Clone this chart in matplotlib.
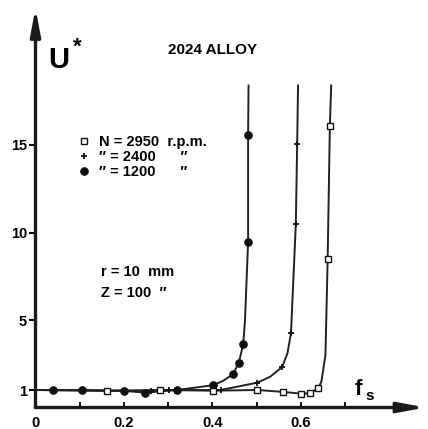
import matplotlib
matplotlib.use("Agg")
import matplotlib.pyplot as plt
from matplotlib.lines import Line2D

plt.rcParams['font.family'] = ['Liberation Sans', 'DejaVu Sans']
plt.rcParams['font.weight'] = 'bold'

# N = 1200 r.p.m. (filled circles)
fs_1200 = [0.040, 0.105, 0.200, 0.248, 0.320, 0.401, 0.447, 0.460, 0.470, 0.481, 0.481]
u_1200 = [1.0, 1.0, 0.95, 0.85, 1.0, 1.27, 1.91, 2.56, 3.63, 9.47, 15.6]
# traced curve through the points (incl. the ends of the line)
curve_fs_1200 = [0.0, 0.040, 0.105, 0.200, 0.248, 0.320, 0.401, 0.425, 0.447, 0.460,
                 0.470, 0.474, 0.481, 0.481, 0.482]
curve_u_1200 = [1.0, 1.0, 1.0, 0.95, 0.85, 1.0, 1.27, 1.53, 1.91, 2.56,
                3.63, 5.0, 9.47, 15.6, 18.4]

# N = 2400 r.p.m. (plus)
fs_2400 = [0.262, 0.301, 0.419, 0.502, 0.558, 0.578, 0.589, 0.592]
u_2400 = [0.95, 1.0, 1.0, 1.42, 2.31, 4.24, 10.5, 15.05]
curve_fs_2400 = [0.0, 0.262, 0.301, 0.419, 0.502, 0.531, 0.558, 0.570, 0.578, 0.589,
                 0.592, 0.594]
curve_u_2400 = [1.0, 0.95, 1.0, 1.0, 1.42, 1.76, 2.31, 3.1, 4.24, 10.5,
                15.05, 18.4]

# N = 2950 r.p.m. (open squares)
fs_2950 = [0.161, 0.281, 0.401, 0.502, 0.561, 0.601, 0.620, 0.640, 0.661, 0.666]
u_2950 = [0.95, 1.0, 0.96, 1.0, 0.89, 0.79, 0.81, 1.10, 8.49, 16.1]
curve_fs_2950 = [0.0, 0.161, 0.281, 0.401, 0.502, 0.561, 0.601, 0.620, 0.640, 0.647,
                 0.656, 0.661, 0.666, 0.669]
curve_u_2950 = [1.0, 0.95, 1.0, 0.96, 1.0, 0.89, 0.79, 0.81, 1.10, 1.5,
                3.0, 8.49, 16.1, 18.4]

x_ticks = [0, 0.2, 0.4, 0.6]
x_minor = [0.1, 0.3, 0.5, 0.7]
y_ticks = [1, 5, 10, 15]

fig = plt.figure(figsize=(4.28, 4.29), dpi=100)
ax = fig.add_axes([35.5 / 428, 21.5 / 429, 390 / 428, 399.5 / 429])
ax.set_xlim(0, 390 / 442)
ax.set_ylim(0, 399.5 / 17.5)

lw = 1.4
ax.plot(curve_fs_1200, curve_u_1200, color='#222', lw=lw)
ax.plot(curve_fs_2400, curve_u_2400, color='#222', lw=lw)
ax.plot(curve_fs_2950, curve_u_2950, color='#222', lw=lw)

ax.plot(fs_1200, u_1200, 'o', color='#111', ms=5.2, ls='none')
ax.plot(fs_2400, u_2400, '+', color='#111', ms=5, mew=1.3, ls='none')
ax.plot(fs_2950, u_2950, 's', mfc='white', mec='#111', ms=3.8, mew=1.0, ls='none')

# axes with arrow heads
for s in ax.spines.values():
    s.set_visible(False)
arrow = dict(arrowstyle='-|>,head_length=1.6,head_width=0.3', lw=2.4,
             color='#1a1a1a', shrinkA=0, shrinkB=0)
ax.annotate('', xy=(0, 1), xytext=(0, 0), xycoords='axes fraction', arrowprops=arrow,
            annotation_clip=False)
ax.annotate('', xy=(1, 0), xytext=(0, 0), xycoords='axes fraction', arrowprops=arrow,
            annotation_clip=False)

ax.set_xticks(x_ticks)
ax.set_xticklabels(['0', '0.2', '0.4', '0.6'])
ax.set_xticks(x_minor, minor=True)
ax.tick_params(axis='x', which='both', direction='in', length=4, width=1.3,
               labelsize=10.5, pad=6)
ax.set_yticks(y_ticks)
ax.set_yticklabels([str(v) for v in y_ticks])
ax.tick_params(axis='y', direction='out', length=5, width=1.5, labelsize=10.5, pad=1)
for lab in ax.get_xticklabels() + ax.get_yticklabels():
    lab.set_fontweight('bold')

# axis names
ax.text(0.028, 19.4, 'U', fontsize=21, fontweight='bold', va='baseline', ha='left')
ax.text(0.094, 20.6, '*', fontsize=16, fontweight='bold', va='center', ha='center')
ax.text(0.722, 0.72, 'f', fontsize=16, fontweight='bold', va='baseline', ha='left')
ax.text(0.746, 0.40, 's', fontsize=11, fontweight='bold', va='baseline', ha='left')

ax.text(0.40, 20.4, '2024 ALLOY', fontsize=11, fontweight='bold', ha='center', va='center')

handles = [
    Line2D([], [], marker='s', mfc='white', mec='#111', ms=3.8, mew=1.0, ls='none'),
    Line2D([], [], marker='+', color='#111', ms=5, mew=1.3, ls='none'),
    Line2D([], [], marker='o', color='#111', ms=5.2, ls='none'),
]
labels = ['N = 2950  r.p.m.', '\u2033 = 2400      \u2033', '\u2033 = 1200      \u2033']
ax.legend(handles, labels, loc='upper left', bbox_to_anchor=(0.096, 15.55),
          bbox_transform=ax.transData, frameon=False,
          prop={'weight': 'bold', 'size': 10.5}, handlelength=0.9,
          handletextpad=0.55, labelspacing=0.05, borderpad=0, borderaxespad=0)

ax.text(0.148, 7.76, 'r = 10  mm', fontsize=10.5, fontweight='bold', va='center', ha='left')
ax.text(0.148, 6.54, 'Z = 100  \u2033', fontsize=10.5, fontweight='bold', va='center', ha='left')

fig.savefig('out.png', dpi=100)
